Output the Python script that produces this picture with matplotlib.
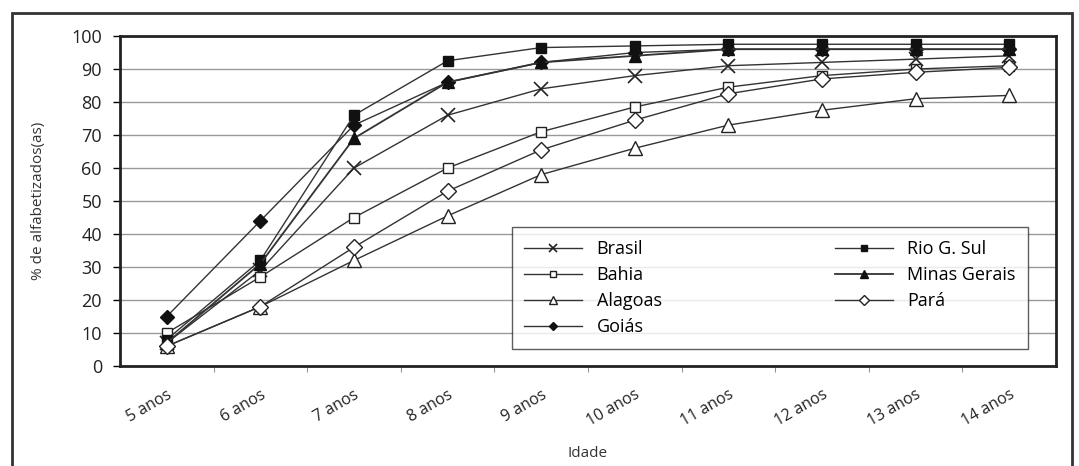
import matplotlib
matplotlib.use("Agg")
import matplotlib.pyplot as plt
from matplotlib.patches import Rectangle
import numpy as np

plt.rcParams['font.family'] = ['Open Sans', 'DejaVu Sans']

idades = ["5 anos", "6 anos", "7 anos", "8 anos", "9 anos", "10 anos",
          "11 anos", "12 anos", "13 anos", "14 anos"]

brasil = [7, 29, 60, 76, 84, 88, 91, 92, 93, 94]
bahia = [10, 27, 45, 60, 71, 78.5, 84.5, 88, 90, 91]
alagoas = [6, 18, 32, 45.5, 58, 66, 73, 77.5, 81, 82]
goias = [15, 44, 73, 86, 92, 95, 96, 96, 96, 96]
rio_g_sul = [8, 32, 76, 92.5, 96.5, 97, 97.5, 97.5, 97.5, 97.5]
minas = [7, 31, 69, 86, 92, 94, 96, 96, 96, 96]
para = [6, 18, 36, 53, 65.5, 74.5, 82.5, 87, 89, 90.5]

x = np.arange(len(idades))

fig = plt.figure(figsize=(10.79, 4.66), dpi=100)
ax = fig.add_axes([0.1112, 0.2146, 0.8675, 0.7081])

lc = '#333333'
ax.plot(x, brasil, color=lc, lw=1, marker='x', ms=10, mew=1.2, mec='#222222', label='Brasil')
ax.plot(x, bahia, color=lc, lw=1, marker='s', ms=7, mfc='white', mec='#222222', label='Bahia')
ax.plot(x, alagoas, color=lc, lw=1, marker='^', ms=10, mfc='white', mec='#222222', label='Alagoas')
ax.plot(x, goias, color=lc, lw=1, marker='D', ms=7, mfc='#111111', mec='#111111', label='Goiás')
ax.plot(x, rio_g_sul, color=lc, lw=1, marker='s', ms=6.5, mfc='#111111', mec='#111111', label='Rio G. Sul')
ax.plot(x, minas, color=lc, lw=1.3, marker='^', ms=9, mfc='#111111', mec='#111111', label='Minas Gerais')
ax.plot(x, para, color=lc, lw=1, marker='D', ms=8, mfc='white', mec='#222222', label='Pará')

ax.set_xlim(-0.5, len(idades) - 0.5)
ax.set_ylim(0, 100)
ax.set_yticks(range(0, 101, 10))
ax.tick_params(axis='y', labelsize=13, length=5, width=1, pad=8, labelcolor='#222222')
ax.set_xticks(x)
ax.set_xticklabels(idades, rotation=30, ha='right', va='top', rotation_mode='anchor', fontsize=11.5)
ax.tick_params(axis='x', which='major', length=0, pad=15, labelcolor='#222222')
ax.set_xticks(x[:-1] + 0.5, minor=True)
ax.tick_params(axis='x', which='minor', length=4, color='#777777')

ax.yaxis.grid(True, color='#999999', lw=1)
ax.set_axisbelow(True)
for s in ax.spines.values():
    s.set_linewidth(2)
    s.set_color('#222222')

ax.set_ylabel('% de alfabetizados(as)', fontsize=11, color='#333333', labelpad=18)
ax.set_xlabel('Idade', fontsize=11, color='#333333', labelpad=12)

leg = ax.legend(ncol=2, loc='lower left', bbox_to_anchor=(0.409, 0.024, 0.571, 0.41),
                mode='expand', fontsize=13, frameon=True, fancybox=False,
                edgecolor='#333333', handlelength=3.2, markerscale=0.6,
                labelspacing=0.45, borderpad=0.7, columnspacing=2.0)
leg.get_frame().set_linewidth(1)

fig.patches.append(Rectangle((12 / 1079, -0.05), 1060 / 1079, 1.022, transform=fig.transFigure,
                             fill=False, edgecolor='#333333', lw=2))

fig.savefig('out.png', dpi=100)
